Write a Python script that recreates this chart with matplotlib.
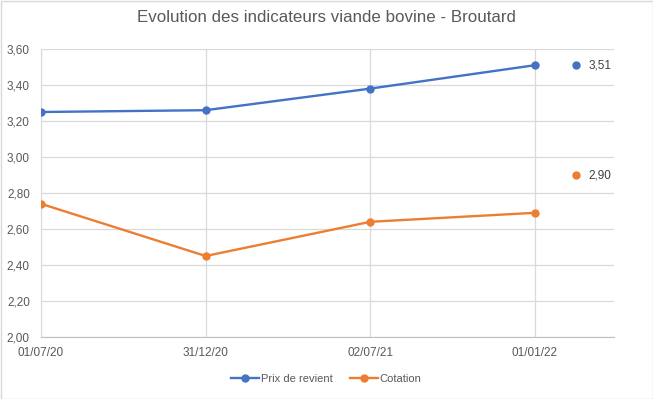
import matplotlib
matplotlib.use("Agg")
from matplotlib import pyplot as plt

# data
dates = ["01/07/20", "31/12/20", "02/07/21", "01/01/22"]
prix_de_revient = [3.25, 3.26, 3.38, 3.51]
cotation = [2.74, 2.45, 2.64, 2.69]
# isolated points shown to the right with their value
dernier_prix = 3.51
derniere_cotation = 2.90

blue = "#4472C4"
orange = "#ED7D31"
grey_text = "#595959"
grid_col = "#D9D9D9"

plt.rcParams["font.family"] = ["Liberation Sans", "DejaVu Sans"]

fig = plt.figure(figsize=(6.53, 3.99), dpi=100)
ax = fig.add_axes([41 / 653, 62 / 399, 573 / 653, 288 / 399])

x = list(range(len(dates)))
ax.plot(x, prix_de_revient, color=blue, lw=1.7, marker="o", ms=5, label="Prix de revient", zorder=3)
ax.plot(x, cotation, color=orange, lw=1.7, marker="o", ms=5, label="Cotation", zorder=3)

# right-hand value markers
x_extra = len(dates) - 1 + 0.25
ax.plot([x_extra], [dernier_prix], "o", color=blue, ms=5, zorder=3)
ax.plot([x_extra], [derniere_cotation], "o", color=orange, ms=5, zorder=3)
ax.annotate(f"{dernier_prix:.2f}".replace(".", ","), (x_extra, dernier_prix), xytext=(9, 0),
            textcoords="offset points", va="center", fontsize=8.5, color="#404040")
ax.annotate(f"{derniere_cotation:.2f}".replace(".", ","), (x_extra, derniere_cotation), xytext=(9, 0),
            textcoords="offset points", va="center", fontsize=8.5, color="#404040")

ax.set_xlim(0, len(dates) - 1 + 0.48)
ax.set_ylim(2.0, 3.6)
ax.set_xticks(x)
ax.set_xticklabels(dates)
yt = [2.0 + 0.2 * i for i in range(9)]
ax.set_yticks(yt)
ax.set_yticklabels([f"{v:.2f}".replace(".", ",") for v in yt])
ax.tick_params(length=0, labelsize=8.5, colors=grey_text)
ax.tick_params(axis="x", pad=7)
ax.tick_params(axis="y", pad=8)

ax.grid(True, color=grid_col, lw=0.9)
ax.set_axisbelow(True)
for side in ["top", "right"]:
    ax.spines[side].set_visible(False)
ax.spines["left"].set_color(grid_col)
ax.spines["bottom"].set_color("#BFBFBF")

fig.text(0.5, 1 - 18 / 399, "Evolution des indicateurs viande bovine - Broutard",
         ha="center", va="center", fontsize=12.2, color=grey_text)

fig.legend(loc="center", bbox_to_anchor=(0.5, 1 - 379 / 399), ncol=2, frameon=False,
           fontsize=8, labelcolor=grey_text, handlelength=2.5, handletextpad=0.2, columnspacing=1.5)

# light border around the chart
fig.patches.append(plt.Rectangle((0.5 / 653, 0.5 / 399), 1 - 1 / 653, 1 - 1 / 399,
                                 transform=fig.transFigure, fill=False, ec="#D9D9D9", lw=1))

fig.savefig("out.png", dpi=100)
